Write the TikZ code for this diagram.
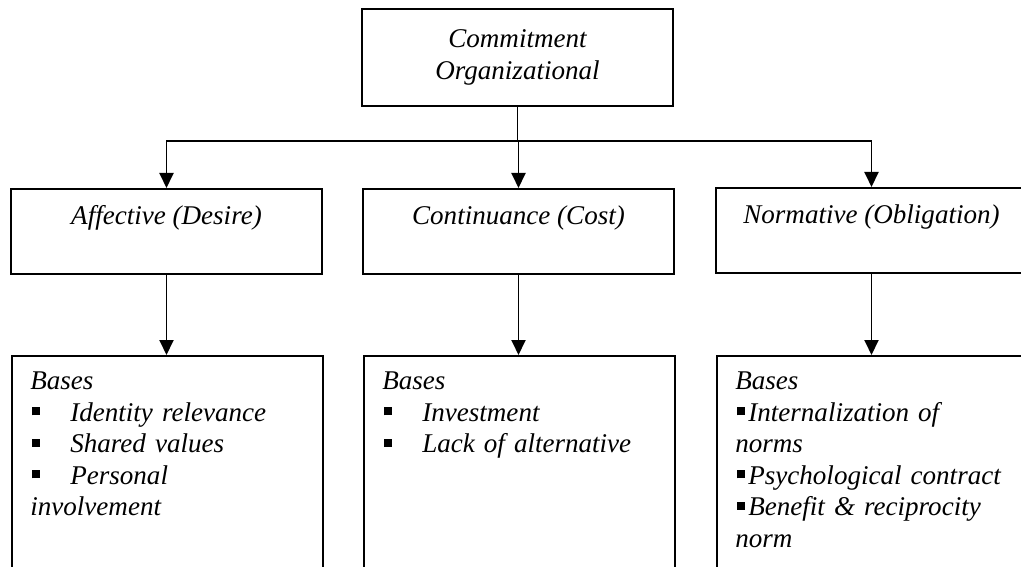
\documentclass[tikz,border=0pt]{standalone}
\usepackage{fontspec}
\setmainfont{Liberation Serif}
\usetikzlibrary{arrows.meta}

\newcommand\bul[1]{\hspace*{0.04cm}\rule[0.12cm]{0.16cm}{0.16cm}\hspace*{#1}}

\begin{document}
\begin{tikzpicture}[x=0.02cm,y=-0.02cm,
   every node/.style={inner sep=0pt,font=\fontsize{15.4}{17.9}\selectfont\itshape},
   box/.style={draw,line width=1.4pt,minimum width=6.22cm},
   headbox/.style={box,text height=0.7cm,text depth=1cm,anchor=north},
   basebox/.style={box,minimum height=5cm,anchor=north west},
   bases/.style={anchor=base west,text width=5.9cm,align=left},
   arr/.style={line width=1.1pt,-{Triangle[width=0.28cm,length=0.3cm]}}]
 \clip (0,0) rectangle (1021,567);
 % top
 \node[box,minimum height=1.94cm,align=center] (org) at (517.5,57.5)
   {Commitment\\Organizational};
 % the three kinds
 \node[headbox] (aff) at (166.5,188) {Affective (Desire)};
 \node[headbox] (con) at (518.5,188) {Continuance (Cost)};
 \node[headbox] (nor) at (871.5,187) {Normative (Obligation)};
 % bases
 \node[basebox] (affB) at (11,355) {};
 \node[basebox] (conB) at (363,355) {};
 \node[basebox] (norB) at (716,355) {};
 \node[bases] (affL) at ([shift={(19,35)}]affB.north west)
   {Bases\\\bul{0.6cm}Identity relevance\\\bul{0.6cm}Shared values\\
    \bul{0.6cm}Personal\\involvement};
 \node[bases] (conL) at ([shift={(19,35)}]conB.north west)
   {Bases\\\bul{0.6cm}Investment\\\bul{0.6cm}Lack of alternative};
 \node[bases] (norL) at ([shift={(19,35)}]norB.north west)
   {Bases\\\bul{0.06cm}Internalization of\\norms\\
    \bul{0.06cm}Psychological contract\\\bul{0.06cm}Benefit \& reciprocity\\norm};
 \foreach \h/\b in {aff/affB,con/conB,nor/norB}{
   \draw[arr] (org.south) -- ++(0,34) -| (\h.north);
   \draw[arr] (\h.south) -- (\b.north -| \h.south);
 }
\end{tikzpicture}
\end{document}
